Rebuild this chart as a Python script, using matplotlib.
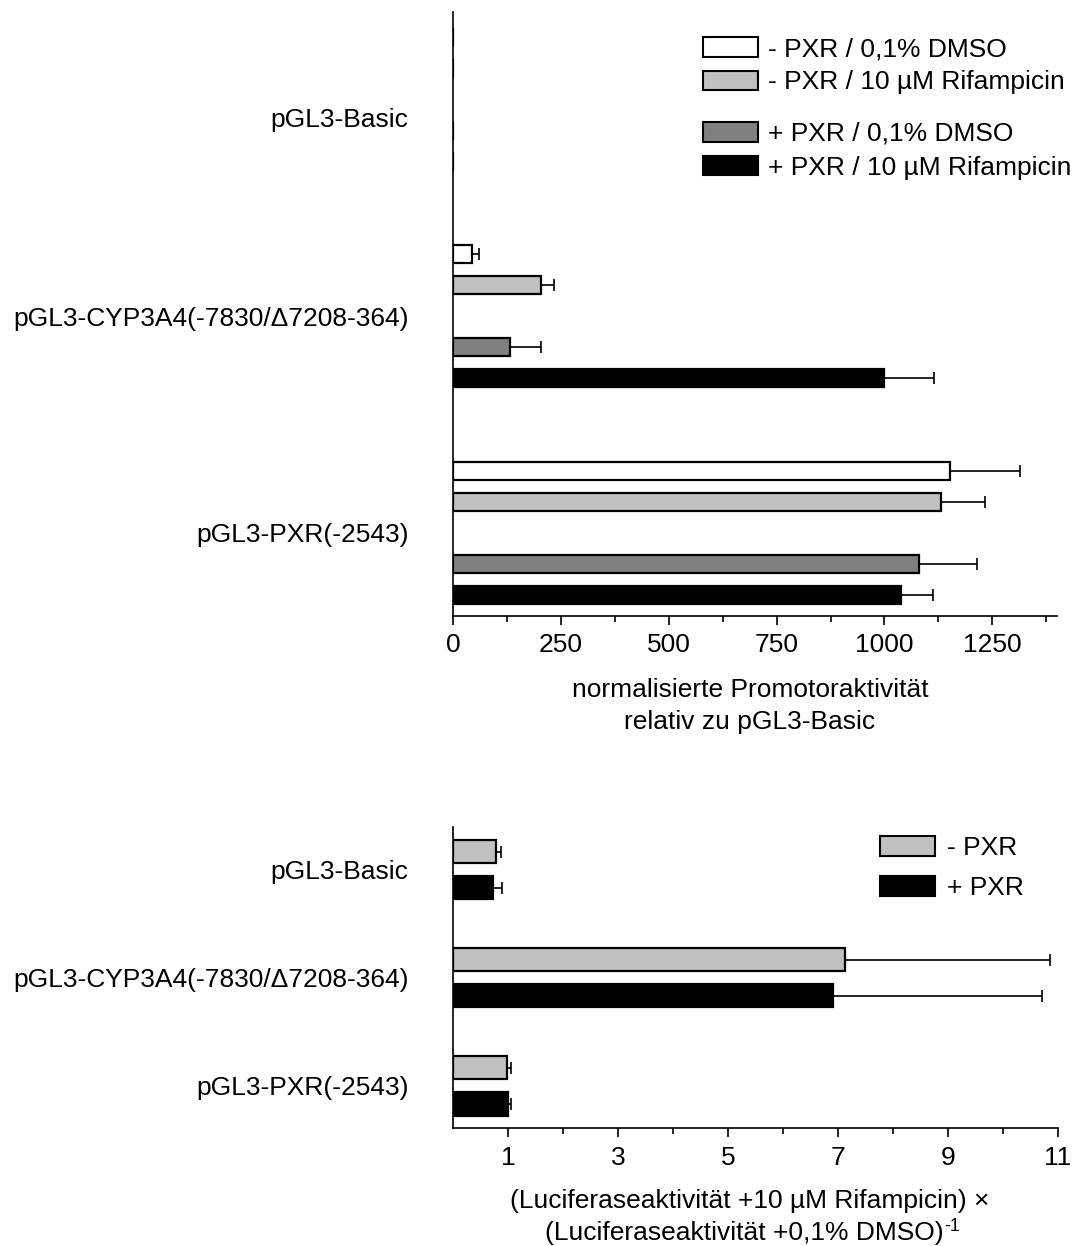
import numpy as np
import matplotlib.pyplot as plt
from matplotlib.patches import Patch

plt.rcParams['font.family'] = ['Liberation Sans', 'DejaVu Sans']
plt.rcParams['font.size'] = 19

# constructs (same for both panels)
constructs = ['pGL3-Basic', 'pGL3-CYP3A4(-7830/Δ7208-364)', 'pGL3-PXR(-2543)']

# top panel: normalised promoter activity
top_series = ['- PXR / 0,1% DMSO', '- PXR / 10 µM Rifampicin',
              '+ PXR / 0,1% DMSO', '+ PXR / 10 µM Rifampicin']
minus_pxr_dmso = [1, 43, 1151]
minus_pxr_rif = [1, 203, 1130]
plus_pxr_dmso = [1, 133, 1081]
plus_pxr_rif = [1, 998, 1038]
minus_pxr_dmso_err = [0, 17, 163]
minus_pxr_rif_err = [0, 32, 104]
plus_pxr_dmso_err = [0, 70, 134]
plus_pxr_rif_err = [0, 116, 75]

# bottom panel: fold induction by rifampicin
fold_series = ['- PXR', '+ PXR']
fold_minus_pxr = [0.79, 7.13, 0.99]
fold_plus_pxr = [0.72, 6.91, 1.00]
fold_minus_pxr_err = [0.08, 3.73, 0.07]
fold_plus_pxr_err = [0.17, 3.80, 0.05]

top_colors = ['white', '#c0c0c0', '#808080', 'black']
bottom_colors = ['#c0c0c0', 'black']

W, H = 1077, 1246
fig = plt.figure(figsize=(W / 100, H / 100), dpi=100)


def axes_px(left, top, right, bottom):
    return fig.add_axes([left / W, 1 - bottom / H, (right - left) / W, (bottom - top) / H])


def style_axis(ax):
    for s in ['top', 'right']:
        ax.spines[s].set_visible(False)
    for s in ['left', 'bottom']:
        ax.spines[s].set_linewidth(1.2)
    ax.tick_params(axis='y', length=0, pad=32)
    ax.tick_params(axis='x', which='major', length=6.5, width=1.2, pad=6)
    ax.tick_params(axis='x', which='minor', length=4.3, width=1.2)


# ---- top panel ----
ax1 = axes_px(453, 11.7, 1057, 616)
top_vals = [minus_pxr_dmso, minus_pxr_rif, plus_pxr_dmso, plus_pxr_rif]
top_errs = [minus_pxr_dmso_err, minus_pxr_rif_err, plus_pxr_dmso_err, plus_pxr_rif_err]
offsets = [0, 1, 3, 4]
groups = np.arange(len(constructs)) * 7
for vals, errs, col, off, lab in zip(top_vals, top_errs, top_colors, offsets, top_series):
    pos = groups + off
    ax1.errorbar(vals, pos, xerr=[np.zeros(len(vals)), errs], fmt='none',
                 ecolor='black', elinewidth=1.2, capsize=4.5, capthick=1.2, zorder=1)
    ax1.barh(pos, vals, height=0.6, color=col, edgecolor='black', linewidth=1.6,
             label=lab, zorder=2)
ax1.set_xlim(0, 1400)
ax1.set_ylim(18.68, -0.826)
ax1.set_xticks(np.arange(0, 1251, 250))
ax1.set_xticks(np.arange(125, 1400, 250), minor=True)
label_pos = groups + 2.0
label_pos[0] += 0.6
ax1.set_yticks(label_pos)
ax1.set_yticklabels(constructs)
style_axis(ax1)

handles = [Patch(facecolor=c, edgecolor='black', linewidth=1.5) for c in top_colors]
leg_kw = dict(frameon=False, loc='upper left', bbox_transform=fig.transFigure,
              handlelength=2.08, handleheight=0.76, handletextpad=0.38,
              labelspacing=0.36, borderpad=0, borderaxespad=0, fontsize=19)
fig.legend(handles[:2], top_series[:2], bbox_to_anchor=(703 / W, 1 - 37 / H), **leg_kw)
fig.legend(handles[2:], top_series[2:], bbox_to_anchor=(703 / W, 1 - 122 / H), **leg_kw)

fig.text(750 / W, 1 - 690 / H, 'normalisierte Promotoraktivität', ha='center', va='center')
fig.text(750 / W, 1 - 722 / H, 'relativ zu pGL3-Basic', ha='center', va='center')

# ---- bottom panel ----
ax2 = axes_px(453, 826.7, 1058, 1128.3)
fold_vals = [fold_minus_pxr, fold_plus_pxr]
fold_errs = [fold_minus_pxr_err, fold_plus_pxr_err]
groups2 = np.arange(len(constructs)) * 3
for k, (vals, errs, col, lab) in enumerate(zip(fold_vals, fold_errs, bottom_colors, fold_series)):
    pos = groups2 + k
    ax2.errorbar(vals, pos, xerr=[np.zeros(len(vals)), errs], fmt='none',
                 ecolor='black', elinewidth=1.2, capsize=4.5, capthick=1.2, zorder=1)
    ax2.barh(pos, vals, height=0.64, color=col, edgecolor='black', linewidth=1.6,
             label=lab, zorder=2)
ax2.set_xlim(0, 11)
ax2.set_ylim(7.675, -0.69)
ax2.set_xticks(np.arange(1, 12, 2))
ax2.set_xticks(np.arange(2, 11, 2), minor=True)
ax2.set_yticks(groups2 + 0.5)
ax2.set_yticklabels(constructs)
style_axis(ax2)

handles2 = [Patch(facecolor=c, edgecolor='black', linewidth=1.5) for c in bottom_colors]
fig.legend(handles2, fold_series, bbox_to_anchor=(880 / W, 1 - 836 / H),
           **dict(leg_kw, labelspacing=0.62, handletextpad=0.45))

fig.text(750 / W, 1 - 1201 / H, '(Luciferaseaktivität +10 µM Rifampicin) ×', ha='center', va='center')
lab2 = fig.text(744 / W, 1 - 1233 / H, '(Luciferaseaktivität +0,1% DMSO)', ha='center', va='center')
ax2.annotate('-1', xy=(1, 1), xycoords=lab2, xytext=(1, 2), textcoords='offset points',
             ha='left', va='top', fontsize=13, annotation_clip=False)

fig.savefig('out.png', dpi=100)
